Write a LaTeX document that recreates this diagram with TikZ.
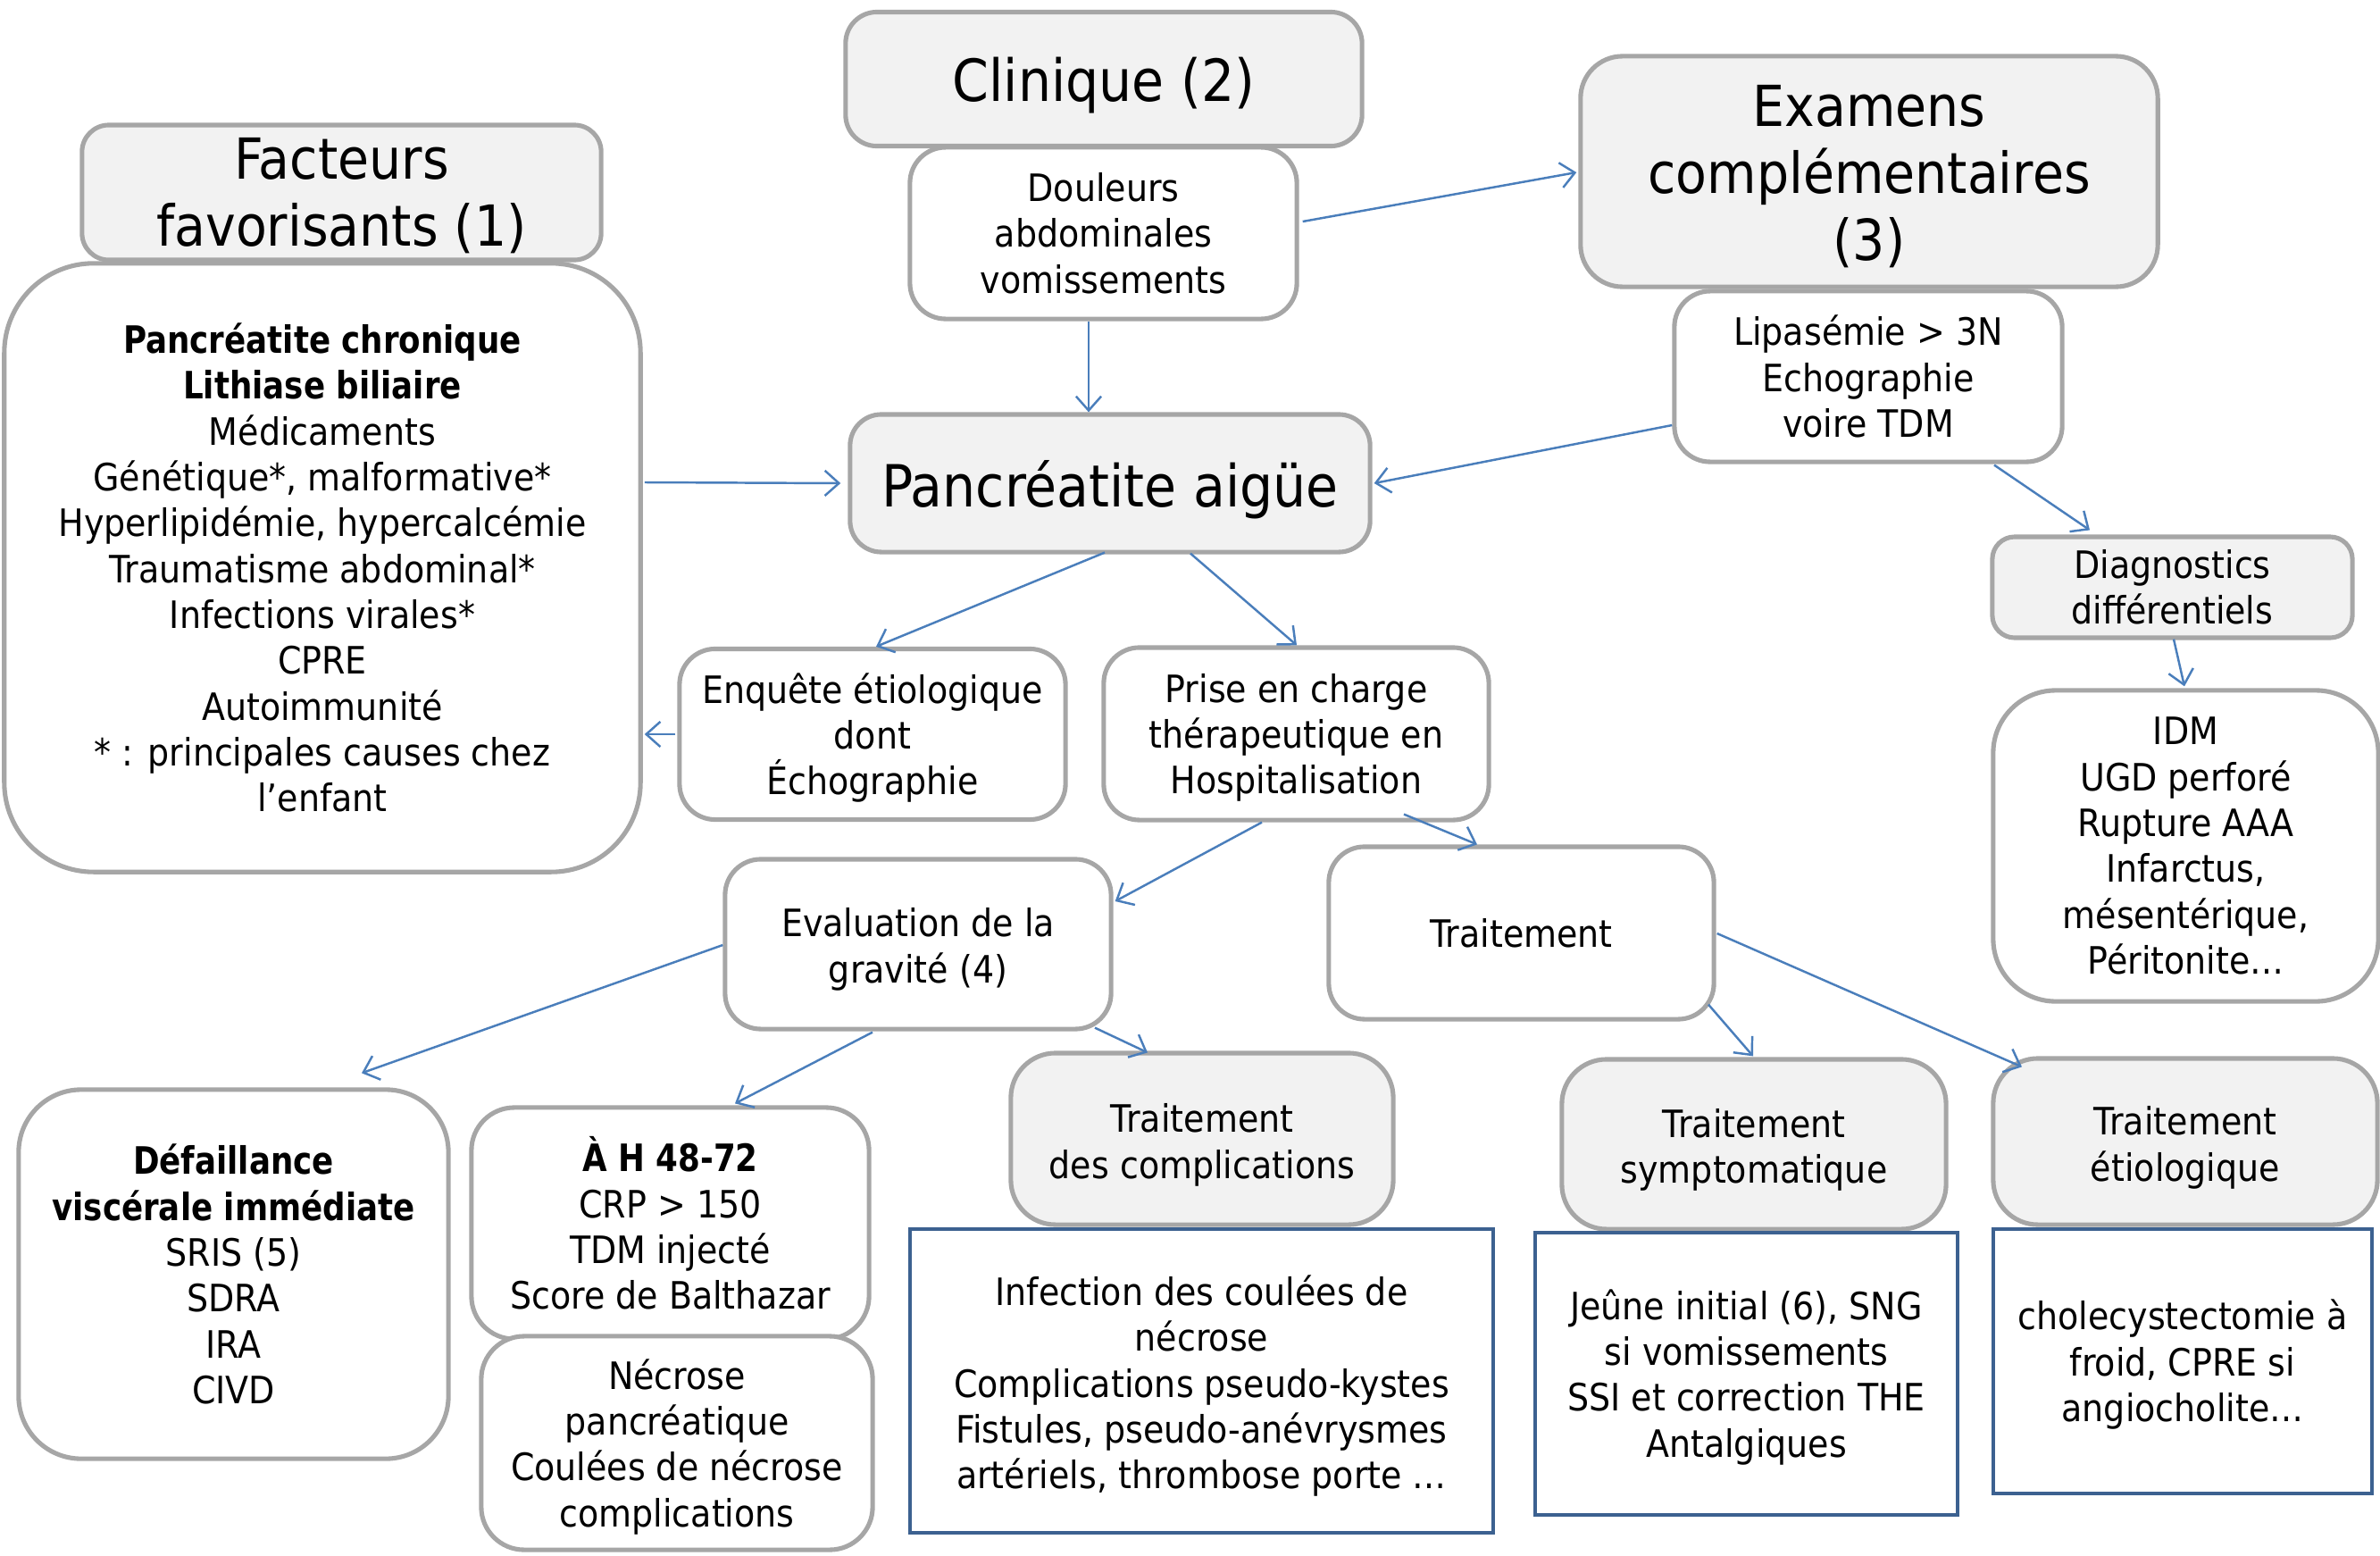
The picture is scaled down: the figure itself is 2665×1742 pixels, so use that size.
\documentclass[tikz,border=0pt]{standalone}
\usepackage{fontspec}
\setmainfont{DejaVu Sans}[FakeStretch=0.90]
\newfontfamily\bfam{DejaVu Sans Bold}[FakeStretch=0.845]
\usetikzlibrary{arrows.meta,calc}
\definecolor{bordgray}{HTML}{A6A6A6}
\definecolor{fillgray}{HTML}{F2F2F2}
\definecolor{arrblue}{HTML}{4A7EBB}
\definecolor{rectblue}{HTML}{3C6190}
\tikzset{
  basebox/.style={draw=bordgray, line width=1.45pt, align=center, inner sep=0pt,
    font=\fontsize{12}{14.6}\selectfont},
  gbox/.style={basebox, fill=fillgray},
  wbox/.style={basebox, fill=white},
  bbox/.style={draw=rectblue, line width=1.2pt, fill=white, align=center, inner sep=0pt,
    font=\fontsize{12}{14.6}\selectfont},
  tx/.style={align=center, inner sep=0pt, font=\fontsize{12}{14.6}\selectfont},
  ttl/.style={align=center, inner sep=0pt, font=\fontsize{18}{21.3}\selectfont},
  arr/.style={draw=arrblue, line width=0.7pt, -{Straight Barb[length=4.5pt,width=8pt]}},
  sz/.style 2 args={minimum width=#1cm, minimum height=#2cm},
}
\begin{document}
\begin{tikzpicture}[x=0.01cm,y=-0.01cm]
\useasboundingbox (0,0) rectangle (2665,1742);
% top row
\node[gbox, sz={5.78}{1.50}, rounded corners=0.35cm,
  label={[ttl, font=\fontsize{18.5}{21.3}\selectfont, yshift=-2pt]center:{Clinique (2)}}] (clin) at (1236,88.5) {};
\node[wbox, sz={4.33}{1.92}, rounded corners=0.4cm] (doul) at (1235.5,261) {Douleurs\\abdominales\\vomissements};
\node[gbox, sz={6.46}{2.58}, rounded corners=0.47cm,
  label={[ttl, yshift=-1.5pt]center:{Examens\\complémentaires\\(3)}}] (exam) at (2093,192) {};
\node[wbox, sz={4.34}{1.91}, rounded corners=0.4cm] (lip) at (2092,421.5) {Lipasémie > 3N\\Echographie\\voire TDM};
\node[gbox, sz={4.03}{1.13}, rounded corners=0.25cm] (diag) at (2432.5,657.5) {Diagnostics\\différentiels};
\node[wbox, sz={4.31}{3.48}, rounded corners=0.7cm] (idm) at (2447.5,947) {IDM\\UGD perforé\\Rupture AAA\\Infarctus,\\mésentérique,\\Péritonite…};
\node[gbox, sz={5.81}{1.51}, rounded corners=0.3cm,
  label={[ttl, yshift=-1pt]center:{Facteurs\\favorisants (1)}}] (fact) at (382.5,215.5) {};
\node[wbox, sz={7.12}{6.81}, rounded corners=1.0cm] (big) at (361,635.5) {{\bfam Pancréatite chronique}\\{\bfam Lithiase biliaire}\\Médicaments\\Génétique*, malformative*\\Hyperlipidémie, hypercalcémie\\Traumatisme abdominal*\\Infections virales*\\CPRE\\Autoimmunité\\* : principales causes chez\\l’enfant};
\node[gbox, sz={5.82}{1.54}, rounded corners=0.35cm,
  label={[ttl, font=\fontsize{18.5}{21.3}\selectfont, yshift=-2pt]center:{Pancréatite aigüe}}] (pa) at (1243,541) {};
% middle
\node[wbox, sz={4.32}{1.91}, rounded corners=0.4cm,
  label={[tx, yshift=-1.1pt]center:{Enquête étiologique\\dont\\Échographie}}] (enq) at (977,822) {};
\node[wbox, sz={4.31}{1.93}, rounded corners=0.4cm,
  label={[tx, yshift=-1.2pt]center:{Prise en charge\\thérapeutique en\\Hospitalisation}}] (prise) at (1451.5,821.5) {};
\node[wbox, sz={4.32}{1.90}, rounded corners=0.4cm,
  label={[tx, yshift=-1.7pt]center:{Evaluation de la\\gravité (4)}}] (eval) at (1028,1057) {};
\node[wbox, sz={4.31}{1.93}, rounded corners=0.4cm] (trait) at (1703.5,1044.5) {Traitement};
% bottom
\node[wbox, sz={4.81}{4.13}, rounded corners=0.7cm] (def) at (261.5,1426.5) {{\bfam Défaillance}\\{\bfam viscérale immédiate}\\SRIS (5)\\SDRA\\IRA\\CIVD};
\node[wbox, sz={4.45}{2.59}, rounded corners=0.48cm] (ah) at (750.5,1369.5) {{\bfam À H 48-72}\\CRP > 150\\TDM injecté\\Score de Balthazar};
\node[wbox, sz={4.38}{2.39}, rounded corners=0.48cm,
  label={[tx, yshift=-1.2pt]center:{Nécrose\\pancréatique\\Coulées de nécrose\\complications}}] (nec) at (758,1615.5) {};
\node[gbox, sz={4.28}{1.92}, rounded corners=0.5cm,
  label={[tx, yshift=-1.9pt]center:{Traitement\\des complications}}] (tc) at (1346,1275) {};
\node[bbox, sz={6.53}{3.40},
  label={[tx, yshift=-1.6pt]center:{Infection des coulées de\\nécrose\\Complications pseudo-kystes\\Fistules, pseudo-anévrysmes\\artériels, thrombose porte …}}] (inf) at (1345.5,1546) {};
\node[gbox, sz={4.30}{1.90}, rounded corners=0.5cm,
  label={[tx, yshift=-1.8pt]center:{Traitement\\symptomatique}}] (ts) at (1964,1281) {};
\node[bbox, sz={4.73}{3.16},
  label={[tx, yshift=-1pt]center:{Jeûne initial (6), SNG\\si vomissements\\SSI et correction THE\\Antalgiques}}] (jeu) at (1955.5,1538) {};
\node[gbox, sz={4.30}{1.86}, rounded corners=0.5cm,
  label={[tx, yshift=-1.9pt]center:{Traitement\\étiologique}}] (te) at (2447,1278) {};
\node[bbox, sz={4.24}{2.96},
  label={[tx, yshift=-1pt]center:{cholecystectomie à\\froid, CPRE si\\angiocholite…}}] (chol) at (2444,1524) {};
% connectors
\draw[arr] ($(doul.south)+(-16.5,0)$) -- ($(pa.north)+(-24,0)$);
\draw[arr] ($(doul.east)+(4,-13)$) -- ($(exam.west)+(-2,1)$);
\draw[arr] ($(lip.west)+(0,54.5)$) -- ($(pa.east)+(2,0)$);
\draw[arr] ($(big.east)+(2,-95.5)$) -- ($(pa.west)+(-8,0)$);
\draw[arr] ($(enq.west)+(-2,0)$) -- ($(big.east)+(2,186.5)$);
\draw[arr] ($(pa.south)+(-6,-2)$) -- ($(enq.north)+(4,0)$);
\draw[arr] ($(pa.south)+(90,-1)$) -- ($(prise.north)+(0.5,0)$);
\draw[arr] ($(lip.south)+(141,1)$) -- ($(diag.north)+(-92.5,-5)$);
\draw[arr] ($(diag.south)+(1.5,-1)$) -- ($(idm.north)+(-1.5,-2)$);
\draw[arr] ($(prise.south)+(-38.5,0)$) -- ($(eval.east)+(2,-48)$);
\draw[arr] ($(prise.south)+(120.5,-9)$) -- ($(trait.north)+(-49.5,0)$);
\draw[arr] ($(eval.west)+(0,1)$) -- ($(def.north)+(143.5,-16)$);
\draw[arr] ($(eval.south)+(-51,1)$) -- ($(ah.north)+(72.5,-2)$);
\draw[arr] ($(eval.south)+(198,-4)$) -- ($(tc.north)+(-61,2)$);
\draw[arr] ($(trait.south)+(209.5,-19)$) -- ($(ts.north)+(-1,-1)$);
\draw[arr] ($(trait.east)+(1,0.5)$) -- ($(te.north)+(-183,12)$);
\end{tikzpicture}
\end{document}
